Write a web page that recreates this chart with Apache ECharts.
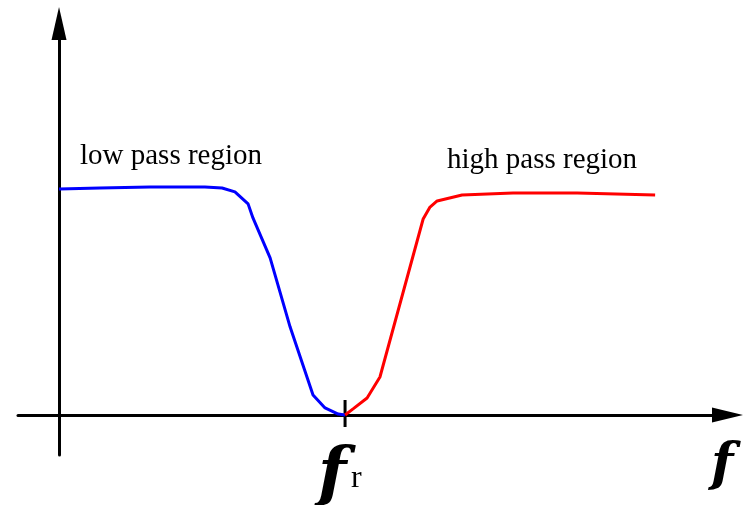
<!DOCTYPE html>
<html>
<head>
<meta charset="utf-8">
<script src="https://cdn.jsdelivr.net/npm/echarts@6/dist/echarts.min.js"></script>
<style>
  html, body { margin: 0; padding: 0; background: #fff; }
  #chart { width: 756px; height: 505px; }
</style>
</head>
<body>
<div id="chart"></div>
<script>
// frequency in arbitrary units, resonance fr = 10
const fr = 10
const lowPassX = [0, 1.43, 3.18, 5.1, 5.7, 6.15, 6.61, 6.78, 7.38, 8.08, 8.88, 9.3, 9.76, 10]
const lowPassY = [1.0, 1.004, 1.009, 1.009, 1.004, 0.987, 0.934, 0.872, 0.695, 0.389, 0.088, 0.031, 0.004, 0]
const highPassX = [10, 10.28, 10.77, 11.22, 12.73, 12.97, 13.22, 14.09, 15.87, 18.11, 20.84]
const highPassY = [0, 0.027, 0.075, 0.168, 0.867, 0.92, 0.947, 0.973, 0.982, 0.982, 0.973]
const frTick = [-0.053, 0.066]

const zip = (xs, ys) => xs.map((x, i) => [x, ys[i]])

const myChart = echarts.init(document.getElementById('chart'))
const serif = '"Liberation Serif", serif'
const mathSerif = '"DejaVu Serif", serif' // bold italic f with a descender hook

const option = {
  animation: false,
  grid: { left: 18, right: 28.5, top: 23.5, bottom: 50 },
  xAxis: {
    type: 'value',
    min: -1.434,
    max: 23.37,
    axisLine: {
      onZero: true,
      symbol: ['none', 'triangle'],
      symbolSize: [15, 31],
      lineStyle: { color: '#000', width: 3 }
    },
    axisTick: { show: false },
    axisLabel: { show: false },
    splitLine: { show: false }
  },
  yAxis: {
    type: 'value',
    min: -0.177,
    max: 1.732,
    axisLine: {
      onZero: true,
      symbol: ['none', 'triangle'],
      symbolSize: [15, 33],
      lineStyle: { color: '#000', width: 3 }
    },
    axisTick: { show: false },
    axisLabel: { show: false },
    splitLine: { show: false }
  },
  series: [
    {
      name: 'fr tick',
      type: 'line',
      data: zip([fr, fr], frTick),
      showSymbol: false,
      lineStyle: { color: '#000', width: 3 },
      z: 1
    },
    {
      name: 'low pass',
      type: 'line',
      data: zip(lowPassX, lowPassY),
      showSymbol: false,
      lineStyle: { color: '#0000ff', width: 3 },
      z: 3
    },
    {
      name: 'high pass',
      type: 'line',
      data: zip(highPassX, highPassY),
      showSymbol: false,
      lineStyle: { color: '#ff0000', width: 3 },
      z: 3
    }
  ],
  graphic: [
    {
      type: 'text',
      style: { x: 80, y: 156, text: 'low pass region', fontFamily: serif, fontSize: 29, fill: '#000', verticalAlign: 'middle' }
    },
    {
      type: 'text',
      style: { x: 447, y: 160, text: 'high pass region', fontFamily: serif, fontSize: 29, fill: '#000', verticalAlign: 'middle' }
    },
    {
      type: 'text',
      style: { x: 318, y: 444, text: 'f', fontFamily: mathSerif, fontSize: 66, fontStyle: 'italic', fontWeight: 'bold', fill: '#000', verticalAlign: 'top' }
    },
    {
      type: 'text',
      style: { x: 351, y: 479, text: 'r', fontFamily: serif, fontSize: 32, fill: '#000', verticalAlign: 'middle' }
    },
    {
      type: 'text',
      style: { x: 711, y: 440, text: 'f', fontFamily: mathSerif, fontSize: 52, fontStyle: 'italic', fontWeight: 'bold', fill: '#000', verticalAlign: 'top' }
    }
  ]
}
myChart.setOption(option)
</script>
</body>
</html>
